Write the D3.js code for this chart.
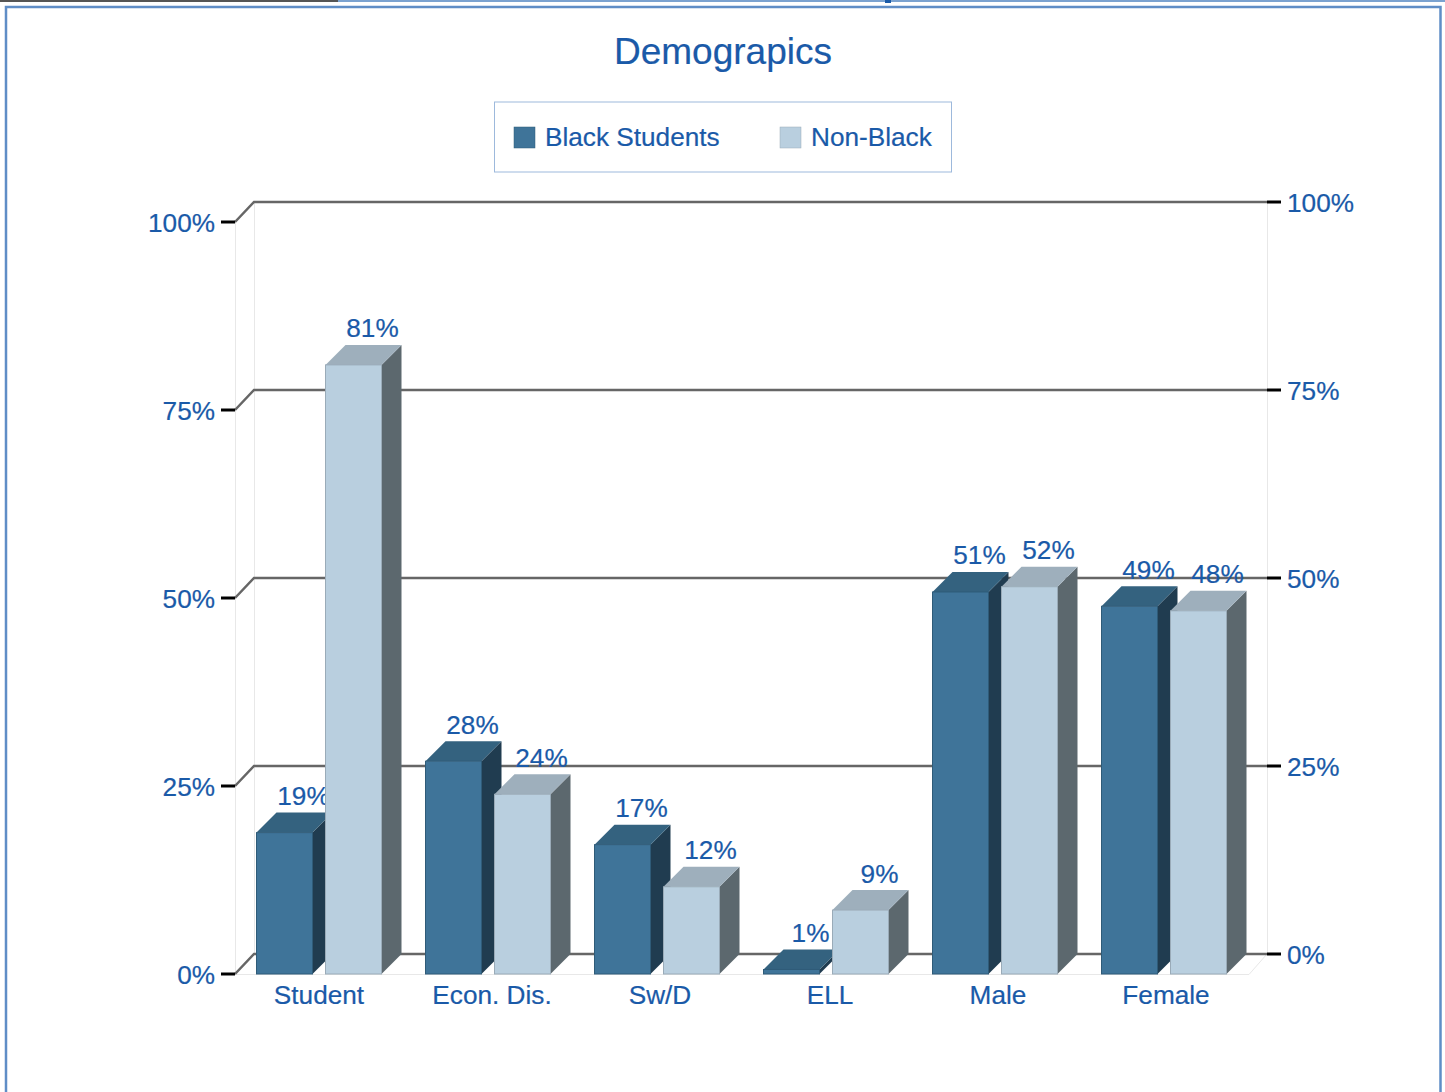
<!DOCTYPE html>
<html>
<head>
<meta charset="utf-8">
<script src="https://d3js.org/d3.v7.min.js"></script>
<style>
    html, body {margin: 0; padding: 0; background: white; overflow: hidden;}
    text {font-family: "Liberation Sans", Arial, sans-serif; fill: #1a5aa8; stroke: #1a5aa8; stroke-width: 0.2px;}
</style>
</head>
<body>
<div id="chart"></div>
<script>
const categories = ["Student", "Econ. Dis.", "Sw/D", "ELL", "Male", "Female"];
const seriesNames = ["Black Students", "Non-Black"];
const blackValues = [18.8, 28.3, 17.2, 0.6, 50.8, 48.9];
const nonBlackValues = [81, 23.9, 11.6, 8.5, 51.5, 48.3];
const blackLabels = ["19%", "28%", "17%", "1%", "51%", "49%"];
const nonBlackLabels = ["81%", "24%", "12%", "9%", "52%", "48%"];
const tickValues = [0, 25, 50, 75, 100];
const title = "Demograpics";

const width = 1445;
const height = 1092;
const depth = {x: 20, y: 20};
const plot = {l: 235, r: 1249, t: 222, b: 974};

const colors = [
    {front: "#3f7499", top: "#34627f", side: "#203c50", stroke: "#2f5b78"},
    {front: "#b9cfdf", top: "#9eafbc", side: "#5c686e", stroke: "#9aabb8"}
];

const svg = d3.select("#chart")
    .append("svg")
    .attr("width", width)
    .attr("height", height)
    .attr("viewBox", [0, 0, width, height])
    .style("display", "block");

const y = d3.scaleLinear().domain([0, 100]).range([plot.b, plot.t]);
const x0 = d3.scaleBand().domain(categories).range([plot.l, plot.r]);
const x1 = d3.scaleBand().domain(seriesNames).range([21, 147]).paddingInner(12 / 69);

// page frame and the clipped strip above it
svg.append("rect").attr("x", 0).attr("y", 0).attr("width", 338).attr("height", 2).attr("fill", "#555");
svg.append("rect").attr("x", 338).attr("y", 0).attr("width", width - 338).attr("height", 2).attr("fill", "#7ba2d0");
svg.append("rect").attr("x", 885).attr("y", 0).attr("width", 6).attr("height", 3).attr("fill", "#1a5aa8");
svg.append("path")
    .attr("d", `M6,${height}V7H1440.5V${height}`)
    .attr("fill", "none")
    .attr("stroke", "#5f8dc6")
    .attr("stroke-width", 2.5);

svg.append("text")
    .attr("x", 723)
    .attr("y", 64)
    .attr("text-anchor", "middle")
    .attr("font-size", "37px")
    .text(title);

// legend
svg.append("rect")
    .attr("x", 494.5).attr("y", 102)
    .attr("width", 457).attr("height", 70)
    .attr("fill", "white")
    .attr("stroke", "#9db9dc");
const legendX = [514, 780];
seriesNames.forEach((name, i) => {
    svg.append("rect")
        .attr("x", legendX[i]).attr("y", 127)
        .attr("width", 21).attr("height", 21)
        .attr("fill", colors[i].front)
        .attr("stroke", colors[i].stroke)
        .attr("stroke-width", 0.5);
    svg.append("text")
        .attr("x", legendX[i] + 31).attr("y", 146)
        .attr("font-size", "26.2px")
        .text(name);
});

// walls
const wallColor = "#e8e8e8";
const walls = svg.append("g").attr("fill", "none").attr("stroke", wallColor);
walls.append("path").attr("d", `M${plot.l + 0.5},${y(100)}V${y(0)}`);
walls.append("path").attr("d", `M${plot.l + depth.x - 0.5},${y(100) - depth.y}V${y(0) - depth.y}`);
walls.append("path").attr("d", `M${plot.r + depth.x - 1.5},${y(100) - depth.y}V${y(0) - depth.y}`);
walls.append("path").attr("d", `M${plot.l},${y(0) + 0.5}H${plot.r}L${plot.r + depth.x - 2},${y(0) - depth.y}`);

// gridlines run along the back wall, with a step down to the left axis
const grid = svg.append("g");
grid.selectAll("path")
    .data(tickValues)
    .enter()
    .append("path")
    .attr("d", d => `M${plot.l},${y(d)}L${plot.l + depth.x - 1},${y(d) - depth.y}H${plot.r + depth.x - 2}`)
    .attr("fill", "none")
    .attr("stroke", "#666")
    .attr("stroke-width", 2.5);

// left axis
const leftAxis = svg.append("g");
tickValues.forEach(d => {
    leftAxis.append("line")
        .attr("x1", plot.l - 14).attr("x2", plot.l)
        .attr("y1", y(d)).attr("y2", y(d))
        .attr("stroke", "black").attr("stroke-width", 3);
    leftAxis.append("text")
        .attr("x", plot.l - 20).attr("y", y(d) + 10)
        .attr("text-anchor", "end")
        .attr("font-size", "26.2px")
        .text(d + "%");
});

// right axis
const rightAxis = svg.append("g");
tickValues.forEach(d => {
    const ty = y(d) - depth.y;
    rightAxis.append("line")
        .attr("x1", plot.r + depth.x - 2).attr("x2", plot.r + depth.x + 12)
        .attr("y1", ty).attr("y2", ty)
        .attr("stroke", "black").attr("stroke-width", 3);
    rightAxis.append("text")
        .attr("x", plot.r + depth.x + 18).attr("y", ty + 10)
        .attr("font-size", "26.2px")
        .text(d + "%");
});

// bars, left to right so each one covers the label of the one before
const bars = [];
categories.forEach((c, i) => {
    bars.push({cat: c, s: 0, value: blackValues[i], label: blackLabels[i]});
    bars.push({cat: c, s: 1, value: nonBlackValues[i], label: nonBlackLabels[i]});
});

const barGroups = svg.selectAll(".bar")
    .data(bars)
    .enter()
    .append("g")
    .attr("class", "bar");

function barBox(d) {
    const left = x0(d.cat) + x1(seriesNames[d.s]);
    return {left: left, right: left + x1.bandwidth(), top: y(d.value), bottom: y(0)};
}

barGroups.append("path")
    .attr("d", d => {
        const b = barBox(d);
        return `M${b.right - 0.5},${b.top}l${depth.x},${-depth.y}V${b.bottom - depth.y}L${b.right - 0.5},${b.bottom}Z`;
    })
    .attr("fill", d => colors[d.s].side);

barGroups.append("path")
    .attr("d", d => {
        const b = barBox(d);
        return `M${b.left + 0.5},${b.top}l${depth.x},${-depth.y}H${b.right + depth.x - 0.5}L${b.right - 0.5},${b.top}Z`;
    })
    .attr("fill", d => colors[d.s].top);

barGroups.append("rect")
    .attr("x", d => barBox(d).left + 0.5)
    .attr("y", d => barBox(d).top)
    .attr("width", x1.bandwidth() - 1)
    .attr("height", d => y(0) - y(d.value))
    .attr("fill", d => colors[d.s].front)
    .attr("stroke", d => colors[d.s].stroke)
    .attr("stroke-width", 1);

barGroups.append("text")
    .attr("x", d => barBox(d).left + x1.bandwidth() / 2 + 19)
    .attr("y", d => y(d.value) - depth.y - 7.5)
    .attr("text-anchor", "middle")
    .attr("font-size", "26.2px")
    .text(d => d.label);

// category labels
const labelX = [319, 492, 660, 830, 998, 1166];
svg.selectAll(".cat")
    .data(categories)
    .enter()
    .append("text")
    .attr("class", "cat")
    .attr("x", (d, i) => labelX[i])
    .attr("y", 1004)
    .attr("text-anchor", "middle")
    .attr("font-size", "26.2px")
    .text(d => d);
</script>
</body>
</html>
